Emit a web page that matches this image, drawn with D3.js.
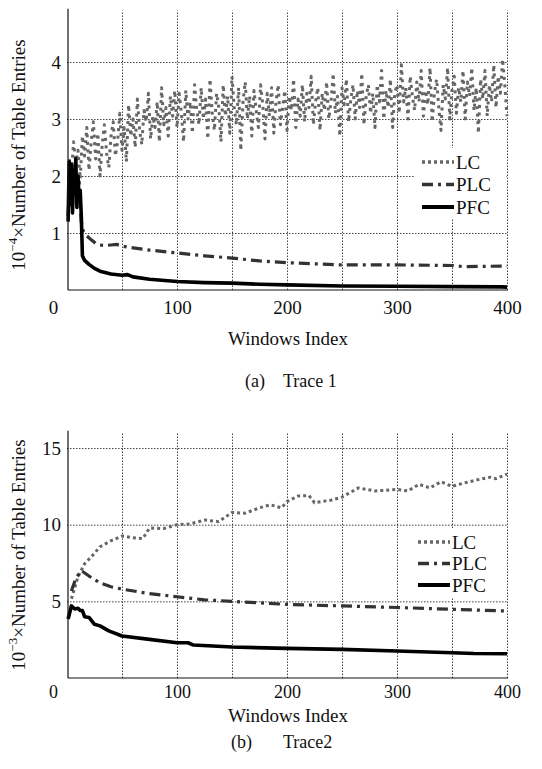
<!DOCTYPE html>
<html lang="en">
<head>
<meta charset="UTF-8">
<title>Table entries</title>
<style type="text/css">
  body {margin:0; background:#fff;}
  svg text {font-family: "Liberation Serif", "DejaVu Serif", serif; fill:#111;}
  .tick text {font-size:19px;}
  .grid line {stroke:#444; stroke-width:1; stroke-dasharray:1.5,1.5;}
  .grid path {display:none;}
</style>
</head>
<body>
<svg id="chart" width="542" height="769"></svg>
<script src="https://d3js.org/d3.v7.min.js"></script>
<script type="text/javascript">
// ---- Trace 1 (values x 10^4) ----
// LC sampled every 2 windows (2, 4, ... 400)
var lc1 = [
  2.3, 2.05, 2.6, 2.2, 2.45, 1.95, 2.7, 2.35, 2.85, 2.1,
  2.6, 2.95, 2.3, 2.75, 2.0, 2.55, 2.9, 2.4, 2.15, 2.7,
  2.95, 2.35, 2.6, 3.1, 2.45, 2.85, 2.25, 3.25, 2.7, 3.0,
  2.5, 3.35, 2.8, 2.55, 3.15, 2.95, 3.45, 2.65, 3.05, 2.85,
  3.3, 2.6, 3.55, 2.9, 3.2, 2.7, 3.4, 3.05, 3.5, 2.85,
  3.45, 3.1, 2.6, 3.5, 3.0, 3.3, 2.75, 3.6, 3.15, 2.9,
  3.55, 3.0, 3.35, 2.65, 3.7, 3.1, 2.8, 3.45, 3.2, 2.6,
  3.6, 3.05, 3.4, 2.75, 3.75, 3.2, 2.9, 3.55, 2.45, 3.3,
  3.65, 3.0, 3.4, 2.7, 3.5, 3.15, 2.85, 3.6, 3.25, 2.65,
  3.45, 3.05, 3.55, 2.75, 3.3, 3.6, 2.9, 3.2, 3.5, 2.8,
  3.4, 3.15, 3.7, 2.85, 3.35, 3.05, 3.6, 2.95, 3.45, 3.2,
  3.75, 2.9, 3.3, 3.55, 2.8, 3.45, 3.15, 3.65, 3.0, 3.3,
  3.8, 3.1, 3.4, 2.7, 3.55, 3.25, 3.7, 2.95, 3.35, 3.6,
  3.0, 3.5, 3.2, 3.8, 2.9, 3.4, 3.6, 3.1, 3.45, 2.85,
  3.6, 3.3, 3.85, 3.0, 3.5, 3.2, 3.7, 2.85, 3.45, 3.6,
  3.1, 3.95, 3.3, 3.55, 3.0, 3.75, 3.4, 3.15, 3.65, 3.3,
  3.85, 3.05, 3.5, 3.25, 3.9, 2.95, 3.45, 3.7, 3.2, 2.8,
  3.6, 3.35, 3.9, 3.0, 3.5, 3.75, 3.1, 3.55, 3.3, 3.85,
  3.0, 3.65, 3.4, 3.9, 3.15, 3.55, 2.75, 3.7, 3.35, 3.85,
  3.05, 3.6, 3.3, 3.95, 3.2, 3.75, 3.45, 4.05, 3.6, 3.05
];
var plc1Win = [1, 3, 5, 7, 9, 11, 13, 15, 18, 22, 26, 30, 35, 40, 45, 50, 60, 75, 100, 125, 150, 175, 200, 225, 250, 300, 350, 360, 400];
var plc1    = [1.3, 2.1, 1.5, 2.2, 1.7, 1.9, 1.2, 1.02, 0.95, 0.88, 0.82, 0.79, 0.78, 0.79, 0.8, 0.77, 0.74, 0.7, 0.65, 0.6, 0.56, 0.51, 0.48, 0.46, 0.44, 0.44, 0.43, 0.41, 0.42];
var pfc1Win = [1, 2, 3, 4, 5, 6, 7, 8, 9, 10, 11, 12, 13, 14, 16, 20, 25, 30, 40, 50, 55, 60, 75, 100, 125, 150, 175, 200, 250, 300, 350, 395, 400];
var pfc1    = [1.2, 2.25, 1.5, 2.2, 1.35, 2.1, 1.8, 2.3, 1.45, 2.0, 1.6, 1.75, 1.3, 0.6, 0.52, 0.45, 0.38, 0.33, 0.28, 0.26, 0.27, 0.23, 0.19, 0.15, 0.13, 0.12, 0.1, 0.09, 0.07, 0.065, 0.06, 0.055, 0.05];

// ---- Trace 2 (values x 10^3) ----
var lc2Win = [4, 10, 16, 22, 30, 40, 50, 60, 69, 75, 88, 100, 112, 125, 138, 150, 162, 175, 185, 195, 200, 210, 220, 225, 240, 250, 265, 280, 300, 310, 320, 330, 340, 350, 360, 375, 385, 390, 400];
var lc2    = [5.17, 6.6, 7.45, 7.9, 8.56, 8.95, 9.26, 9.15, 9.1, 9.78, 9.75, 10.0, 10.05, 10.3, 10.2, 10.8, 10.75, 11.1, 11.3, 11.1, 11.5, 11.87, 11.9, 11.43, 11.6, 11.8, 12.4, 12.2, 12.3, 12.2, 12.63, 12.4, 12.8, 12.5, 12.7, 12.96, 13.1, 13.0, 13.3];
var plc2Win = [4, 8, 13, 20, 30, 40, 50, 75, 100, 125, 150, 200, 250, 300, 350, 400];
var plc2    = [5.67, 6.5, 7.0, 6.65, 6.2, 5.95, 5.8, 5.5, 5.3, 5.1, 5.0, 4.8, 4.7, 4.6, 4.48, 4.37];
var pfc2Win = [1, 4, 7, 10, 12, 14, 16, 20, 25, 30, 38, 50, 75, 100, 110, 115, 150, 200, 250, 300, 350, 370, 400];
var pfc2    = [3.85, 4.7, 4.5, 4.55, 4.4, 4.4, 4.0, 3.95, 3.5, 3.4, 3.07, 2.74, 2.52, 2.3, 2.3, 2.15, 2.02, 1.93, 1.87, 1.76, 1.65, 1.6, 1.58];

var xTicks = [0, 100, 200, 300, 400];
var xGrid = [50, 100, 150, 200, 250, 300, 350, 400];
var seriesNames = ["LC", "PLC", "PFC"];

var styles = {
  LC:  {color: "#666", width: 3, dash: "3,3"},
  PLC: {color: "#333", width: 3.2, dash: "11,5,3,5"},
  PFC: {color: "#000", width: 3.6, dash: null}
};

var svg = d3.select("#chart");

function zip(xs, ys) {
  return xs.map(function(w, i) { return {w: w, v: ys[i]}; });
}

function drawPanel(p) {
  var x = d3.scaleLinear().domain([0, 400]).range([67, 507]);
  var y = d3.scaleLinear().domain([0, p.yMax]).range([p.bottom, p.top]);
  var g = svg.append("g");

  // grid
  g.append("g").attr("class", "grid")
    .attr("transform", "translate(0," + p.bottom + ")")
    .call(d3.axisBottom(x).tickValues(xGrid).tickSize(-(p.bottom - p.top)).tickFormat(""));
  g.append("g").attr("class", "grid")
    .attr("transform", "translate(67,0)")
    .call(d3.axisLeft(y).tickValues(p.yTicks).tickSize(-440).tickFormat(""));

  // tick labels
  var xa = g.append("g")
    .attr("transform", "translate(0," + p.bottom + ")")
    .call(d3.axisBottom(x).tickValues(xTicks).tickSize(0).tickPadding(p.xPad));
  xa.attr("font-family", null).attr("font-size", null);
  xa.select(".domain").remove();
  xa.selectAll("text").style("font-size", p.xFont + "px")
    .attr("dx", function(d) { return d === 0 ? -14 : 0; });

  var ya = g.append("g")
    .attr("transform", "translate(67,0)")
    .call(d3.axisLeft(y).tickValues(p.yTicks).tickSize(0).tickPadding(6)
      .tickFormat(function(d) { return String(d); }));
  ya.attr("font-family", null).attr("font-size", null);
  ya.select(".domain").remove();

  // series
  var line = d3.line().x(function(d) { return x(d.w); }).y(function(d) { return y(d.v); });
  p.series.forEach(function(s) {
    var st = styles[s.name];
    g.append("path")
      .datum(s.data)
      .attr("fill", "none")
      .attr("stroke", st.color)
      .attr("stroke-width", st.width)
      .attr("stroke-dasharray", s.dash || st.dash)
      .attr("stroke-linejoin", "round")
      .attr("d", line);
  });

  // axes lines
  g.append("line").attr("x1", 68).attr("x2", 68).attr("y1", p.top - 2).attr("y2", p.bottom)
    .attr("stroke", "#111").attr("stroke-width", 1.2);
  g.append("line").attr("x1", 68).attr("x2", 508).attr("y1", p.bottom).attr("y2", p.bottom)
    .attr("stroke", "#111").attr("stroke-width", 1.2);

  // legend
  var lg = g.append("g");
  lg.append("rect").attr("x", 414).attr("y", p.legY - 14).attr("width", 92).attr("height", 70).attr("fill", "#fff");
  seriesNames.forEach(function(n, i) {
    var st = styles[n], ly = p.legY + i * p.legStep;
    lg.append("line")
      .attr("x1", p.legX).attr("x2", p.legX + 32).attr("y1", ly).attr("y2", ly)
      .attr("stroke", st.color).attr("stroke-width", st.width + 0.4)
      .attr("stroke-dasharray", st.dash);
    lg.append("text").attr("x", p.legX + 34).attr("y", ly + 6.5)
      .attr("font-size", 19).text(n);
  });

  // axis titles
  var yt = g.append("text")
    .attr("transform", "translate(25," + p.yTitleY + ") rotate(-90)")
    .attr("text-anchor", "middle")
    .attr("font-size", 19);
  yt.append("tspan").text("10");
  yt.append("tspan").attr("dy", -8).attr("font-size", 13).text(p.exp);
  yt.append("tspan").attr("dy", 8).text("\u00d7Number of Table Entries");

  g.append("text").attr("x", 288).attr("y", p.xTitleY).attr("text-anchor", "middle")
    .attr("font-size", 19).text("Windows Index");
  g.append("text").attr("x", p.capX).attr("y", p.capY).attr("font-size", 18).text(p.capA);
  g.append("text").attr("x", 283).attr("y", p.capY).attr("font-size", 18).text(p.capB);
}

drawPanel({
  top: 10.7, bottom: 290, yMax: 4.9, yTicks: [1, 2, 3, 4], exp: "\u22124",
  xPad: 11, xFont: 19, xTitleY: 345, capY: 387, capX: 245, capA: "(a)", capB: "Trace 1",
  yTitleY: 155, legX: 422, legY: 162, legStep: 22.5,
  series: [
    {name: "LC", dash: "3,4.5", data: lc1.map(function(v, i) { return {w: (i + 1) * 2, v: v}; })},
    {name: "PLC", data: zip(plc1Win, plc1)},
    {name: "PFC", data: zip(pfc1Win, pfc1)}
  ]
});

drawPanel({
  top: 432.7, bottom: 678, yMax: 16, yTicks: [5, 10, 15], exp: "\u22123",
  xPad: 7, xFont: 18, xTitleY: 722, capY: 748, capX: 231, capA: "(b)", capB: "Trace2",
  yTitleY: 555, legX: 418, legY: 542, legStep: 21.5,
  series: [
    {name: "LC", data: zip(lc2Win, lc2)},
    {name: "PLC", data: zip(plc2Win, plc2)},
    {name: "PFC", data: zip(pfc2Win, pfc2)}
  ]
});
</script>
</body>
</html>
